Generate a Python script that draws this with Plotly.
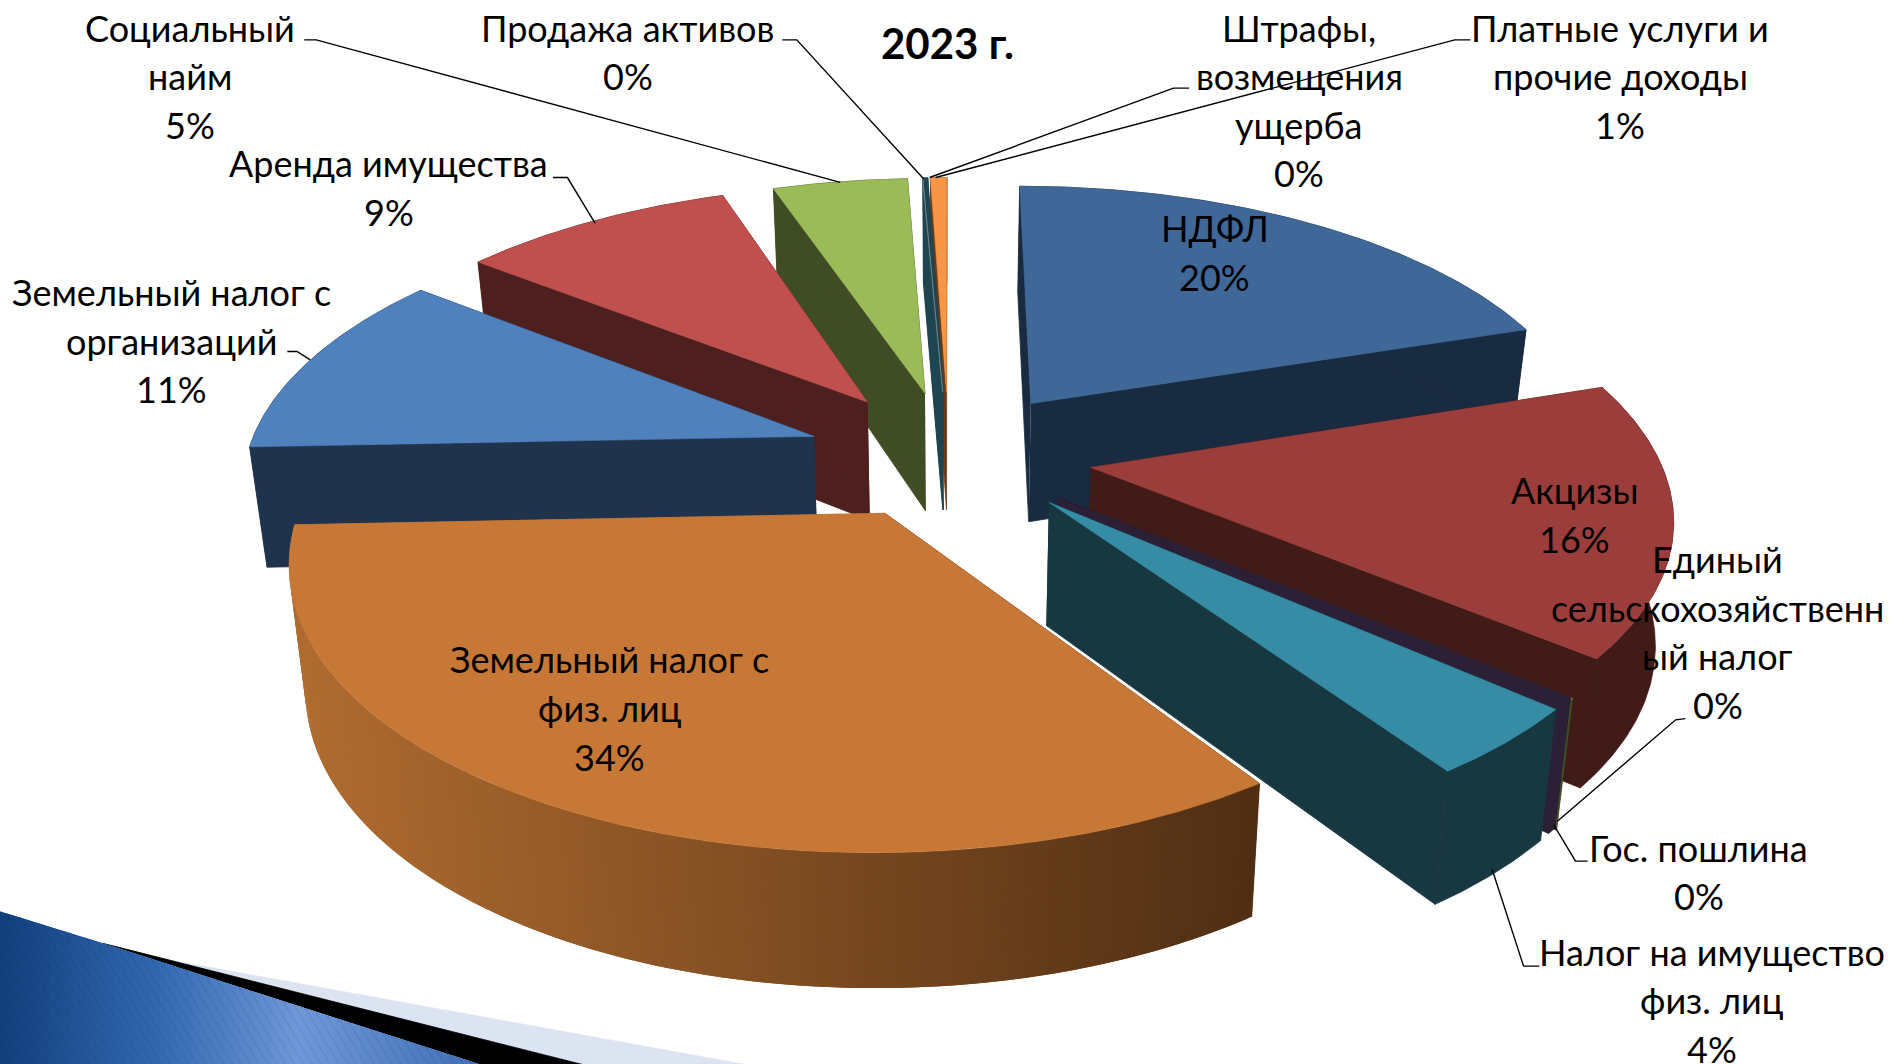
import numpy as np
import plotly.graph_objects as go

# ---- data -----------------------------------------------------------------
categories = ["НДФЛ", "Акцизы", "Единый сельскохозяйственный налог", "Гос. пошлина",
              "Налог на имущество физ. лиц", "Земельный налог с физ. лиц",
              "Земельный налог с организаций", "Аренда имущества", "Социальный найм",
              "Продажа активов", "Штрафы, возмещения ущерба", "Платные услуги и прочие доходы"]
values = [20, 16, 0.05, 0.3, 4.05, 34, 11.15, 9.25, 4.55, 0.02, 0.13, 0.55]
label_lines = [["НДФЛ"], ["Акцизы"], ["Единый", "сельскохозяйственн", "ый налог"], ["Гос. пошлина"],
               ["Налог на имущество", "физ. лиц"], ["Земельный налог с", "физ. лиц"],
               ["Земельный налог с", "организаций"], ["Аренда имущества"], ["Социальный", "найм"],
               ["Продажа активов"], ["Штрафы,", "возмещения", "ущерба"], ["Платные услуги и", "прочие доходы"]]
title = "2023 г."

# ---- styles and geometry ---------------------------------------------------
explode = [.265, .265, .26, .26, .265, .235, .25, .27, .26, .26, .26, .26]
nudge_x = [-1, -4, -3, -3, -1, 0, 1, 6, 4, 2, 2, 2]
nudge_y = [0, -4, -4, -6, -9, -3, -2, 0, 0, 0, 0, 0]
top_colors = ["#3F6899", "#9B3E3B", "#8A9A3C", "#2B2036", "#378CA5", "#C77836",
              "#4F81BD", "#C0504D", "#9BBB59", "#8E9AA0", "#1F4550", "#F79646"]
wall_left = ["#192B41", "#401B18", "#404C24", "#2B2036", "#183841", "#4F2E14",
             "#1F334C", "#4D1F1E", "#404C24", "#1F4550", "#1F4550", "#6B3A14"]
wall_right = list(wall_left)
wall_right[5] = "#B06C30"
label_pos = [(1006, 189), (1304, 406), (1423, 463), (1407, 702), (1418, 788), (505, 546),
             (142, 242), (322, 135), (157, 23), (520, 23), (1076, 23), (1342, 23)]
leaders = [[(252, 33), (262, 33), (696, 151)], [(648, 33), (660, 33), (765, 148)],
           [(985, 73), (972, 73), (770, 147)], [(1218, 33), (1205, 33), (775, 147)],
           [(458, 147), (470, 147), (493, 185)], [(238, 291), (246, 291), (257, 298)],
           [(1396, 595), (1388, 596), (1290, 680)], [(1315, 713), (1305, 713), (1287, 683)],
           [(1275, 800), (1262, 800), (1236, 720)]]

W, H_PAGE = 1568, 881
CX, CY, R, K, P, H = 784, 380, 470, 0.47, 0.155, 100
FONT = "Lato"
FS, LH = 36, 40.2
SCALE = 1893 / 1568


def project(X, Y, low=False):
    s = 1 / (1 + P * Y)
    x = CX + R * X * s
    y = CY - R * K * Y * s
    if low:
        x = CX + (x - CX) * 0.975
        y = y + H * (1 - 0.1 * Y)
    return x, y


def mix(a, b, t):
    ca = [int(a[i:i + 2], 16) for i in (1, 3, 5)]
    cb = [int(b[i:i + 2], 16) for i in (1, 3, 5)]
    return "rgb(%d,%d,%d)" % tuple(round(p + (q - p) * t) for p, q in zip(ca, cb))


fig = go.Figure()


def poly(xs, ys, color, lw=0.8):
    fig.add_trace(go.Scatter(x=list(xs), y=list(ys), mode="lines", fill="toself", fillcolor=color,
                             line=dict(color=color, width=lw), hoverinfo="skip", showlegend=False))


# corner decoration of the slide
def corner():
    blue = [(0, 911), (103, 943), (480, 1064)]
    black = [(103, 943), (582, 1064), (480, 1064)]
    light = [(149, 956), (744, 1064), (582, 1064), (115, 946)]
    for pts, c in ((light, "#DCE3F1"), (black, "#000000")):
        poly([p[0] / SCALE for p in pts], [p[1] / SCALE for p in pts], c)
    ex = [p[0] for p in blue]
    ey = [p[1] for p in blue]
    edges = np.linspace(0, 480, 97)
    stops = [(0, "#123F7C"), (150, "#2F66AE"), (300, "#6F98D8"), (480, "#3F6FB5")]
    for j in range(len(edges) - 1):
        a = edges[j]
        b = edges[min(j + 2, len(edges) - 1)]
        m = (edges[j] + edges[j + 1]) / 2
        for (s0, c0), (s1, c1) in zip(stops[:-1], stops[1:]):
            if s0 <= m <= s1:
                c = mix(c0, c1, (m - s0) / (s1 - s0))
        ya, yb = np.interp([a, b], ex, ey)
        poly(np.array([a, b, b, a]) / SCALE, np.array([ya, yb, 1066, 1066]) / SCALE, c, lw=0)
    # fine diagonal hatch
    hx, hy = [], []
    for x0 in np.arange(-80, 480, 11.0):
        start = max(x0, 0)
        y0 = float(np.interp(start, ex, ey)) + (start - x0) * 1.65 if x0 < 0 else float(np.interp(start, ex, ey))
        x1 = start + (1064 - y0) / 1.65
        if y0 < 1064:
            hx += [start / SCALE, x1 / SCALE, None]
            hy += [y0 / SCALE, 1064 / SCALE, None]
    fig.add_trace(go.Scatter(x=hx, y=hy, mode="lines", line=dict(color="rgba(10,40,100,0.13)", width=1),
                             hoverinfo="skip", showlegend=False))


corner()

# slices: angles follow the values, clockwise from 12 o'clock
total = sum(values)
angles = np.cumsum([0] + values) / total * 2 * np.pi
mids = (angles[:-1] + angles[1:]) / 2
order = sorted(range(len(values)), key=lambda i: -np.cos(mids[i]))

for i in order:
    a0, a1 = angles[i], angles[i + 1]
    ox, oy = explode[i] * np.sin(mids[i]), explode[i] * np.cos(mids[i])
    n = max(2, int((a1 - a0) / np.radians(0.5)))
    th = np.linspace(a0, a1, n + 1)
    rx, ry = ox + np.sin(th), oy + np.cos(th)
    dx, dy = nudge_x[i], nudge_y[i]
    tx, ty = project(rx, ry)
    bx, by = project(rx, ry, low=True)
    ax, ay = project(ox, oy)
    cx_, cy_ = project(ox, oy, low=True)
    tx, bx, ax, cx_ = tx + dx, bx + dx, ax + dx, cx_ + dx
    ty, by, ay, cy_ = ty + dy, by + dy, ay + dy, cy_ + dy
    # two flat radial walls
    poly([ax, tx[0], bx[0], cx_], [ay, ty[0], by[0], cy_], wall_left[i])
    poly([ax, tx[-1], bx[-1], cx_], [ay, ty[-1], by[-1], cy_], wall_right[i])
    # rounded wall: flat colour, or overlapping narrow quads with a left-to-right gradient
    if wall_left[i] == wall_right[i]:
        poly(np.r_[tx, bx[::-1]], np.r_[ty, by[::-1]], wall_left[i])
    else:
        for j in range(n):
            e = min(j + 2, n)
            t = (bx[0] - (bx[j] + bx[j + 1]) / 2) / (bx[0] - bx.min())
            poly([tx[j], tx[e], bx[e], bx[j]], [ty[j], ty[e], by[e], by[j]],
                 mix(wall_left[i], wall_right[i], min(max(t, 0), 1)), lw=0)
    # top face
    poly(np.r_[ax, tx, ax], np.r_[ay, ty, ay], top_colors[i], lw=0.5)

# leader lines
for pts in leaders:
    fig.add_trace(go.Scatter(x=[p[0] for p in pts], y=[p[1] for p in pts], mode="lines",
                             line=dict(color="#000000", width=1.4), hoverinfo="skip", showlegend=False))


def text(x, y, s, bold=False, size=FS):
    fig.add_annotation(x=x, y=y, text=f"<b>{s}</b>" if bold else s, showarrow=False, xanchor="center",
                       yanchor="middle", font=dict(family=FONT, size=size, color="#000000"))


for i, lines in enumerate(label_lines):
    x, y = label_pos[i]
    rows = lines + [f"{round(values[i])}%"]
    for k, row in enumerate(rows):
        text(x, y + k * LH, row)
text(785, 36, title, bold=True, size=42)

fig.update_layout(width=1893, height=1064, margin=dict(l=0, r=0, t=0, b=0), autosize=False,
                  paper_bgcolor="#FFFFFF", plot_bgcolor="#FFFFFF", showlegend=False,
                  xaxis=dict(range=[0, W], visible=False, fixedrange=True),
                  yaxis=dict(range=[H_PAGE, 0], visible=False, fixedrange=True))
fig.write_html("out.html", post_script="document.body.style.margin='0';document.body.style.overflow='hidden';",
               config=dict(displayModeBar=False))
